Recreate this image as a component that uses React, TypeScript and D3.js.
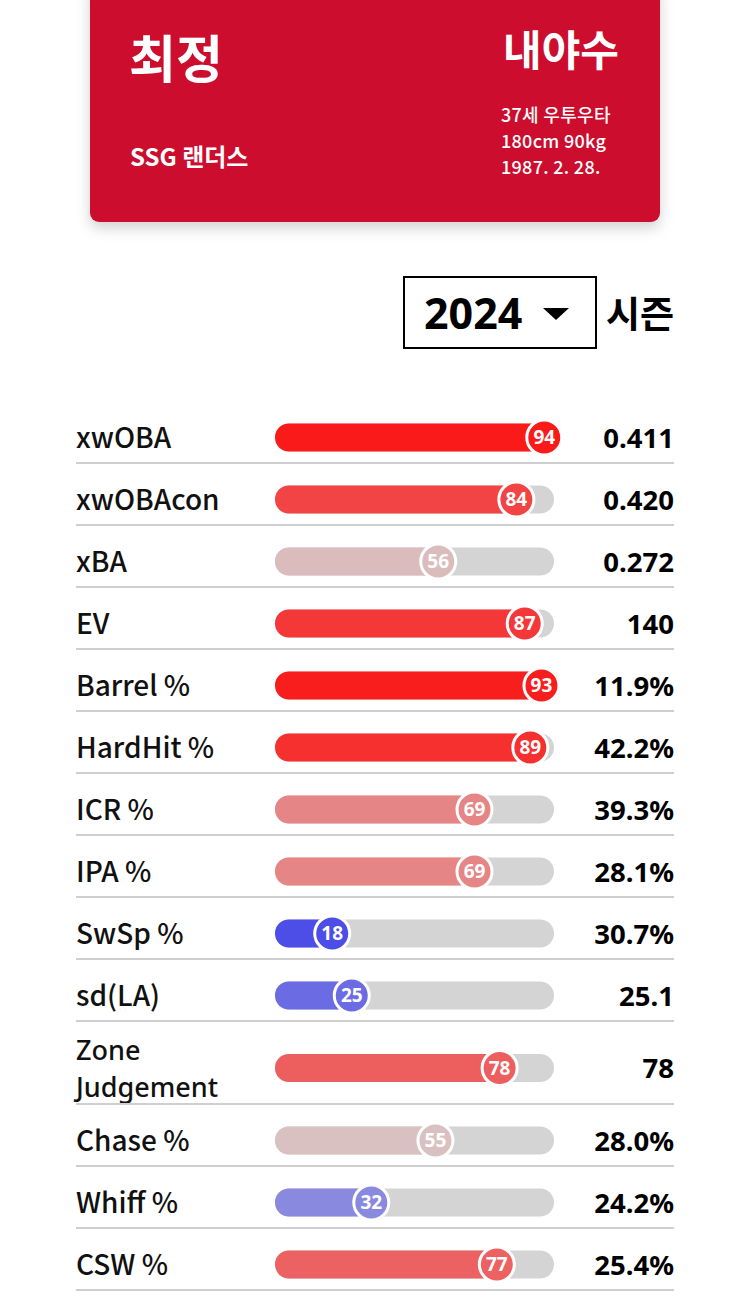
import React from "react";
import * as d3 from "d3";

const playerName = "최정";
const position = "내야수";
const team = "SSG 랜더스";
const bioLines = ["37세 우투우타", "180cm 90kg", "1987. 2. 28."];
const season = "2024";
const seasonLabel = "시즌";

const metrics = [
  "xwOBA", "xwOBAcon", "xBA", "EV", "Barrel %", "HardHit %", "ICR %", "IPA %",
  "SwSp %", "sd(LA)", "Zone Judgement", "Chase %", "Whiff %", "CSW %",
];
const percentiles = [94, 84, 56, 87, 93, 89, 69, 69, 18, 25, 78, 55, 32, 77];
const statValues = [
  "0.411", "0.420", "0.272", "140", "11.9%", "42.2%", "39.3%", "28.1%",
  "30.7%", "25.1", "78", "28.0%", "24.2%", "25.4%",
];

const LABEL_FONT = "'Noto Sans CJK KR', 'Noto Sans', sans-serif";
const NUM_FONT = "'Noto Sans', 'Noto Sans CJK KR', sans-serif";

export default function App() {
  const W = 750;
  const H = 1293;

  // layout
  const rowsTop = 401;
  const singleH = 62;
  const doubleH = 83;
  const lines = metrics.map((m) => (m.length > 10 ? m.split(" ") : [m]));
  const heights = lines.map((l) => (l.length > 1 ? doubleH : singleH));
  const tops: number[] = [];
  heights.reduce((acc, h, i) => {
    tops[i] = acc;
    return acc + h;
  }, rowsTop);

  const trackX0 = 275;
  const trackX1 = 554;
  const x = d3.scaleLinear().domain([0, 100]).range([trackX0, trackX1]);
  const color = d3
    .scaleLinear<string>()
    .domain([0, 50, 100])
    .range(["#0000f0", "#d6d6d6", "#ff0000"])
    .interpolate(d3.interpolateRgb);
  const barH = 28;
  const circR = 17.5;
  const circOffset = 7;

  const tri = d3.line()([
    [543, 308],
    [569, 308],
    [556, 320],
  ]);

  return (
    <div style={{ position: "absolute", left: 0, top: 0, width: W, height: H }}>
      <svg width={W} height={H} viewBox={`0 0 ${W} ${H}`} style={{ display: "block" }}>
        <defs>
          <filter id="shadow" x="-10%" y="-20%" width="120%" height="160%">
            <feDropShadow dx="0" dy="6" stdDeviation="7" floodColor="#000" floodOpacity="0.18" />
          </filter>
        </defs>
        <rect x={0} y={0} width={W} height={H} fill="#fff" />

        {/* header card */}
        <rect x={90} y={-20} width={570} height={242} rx={9} fill="#cc0f2d" filter="url(#shadow)" />
        <text x={129} y={78} fill="#fff" fontFamily={LABEL_FONT} fontWeight={700} fontSize={51}>
          {playerName}
        </text>
        <text x={619} y={66} fill="#fff" fontFamily={LABEL_FONT} fontWeight={700} fontSize={42} textAnchor="end">
          {position}
        </text>
        <text x={130} y={166} fill="#fff" fontFamily={LABEL_FONT} fontWeight={700} fontSize={24}>
          {team}
        </text>
        {bioLines.map((t, i) => (
          <text
            key={t}
            x={501}
            y={122 + i * 26}
            fill="#fff"
            fontFamily={LABEL_FONT}
            fontWeight={500}
            fontSize={18}
            letterSpacing={0.3}
          >
            {t}
          </text>
        ))}

        {/* season selector */}
        <rect x={404} y={277} width={192} height={71} fill="#fff" stroke="#000" strokeWidth={2} />
        <text x={424} y={329} fontFamily={NUM_FONT} fontWeight={700} fontSize={43} fill="#000">
          {season}
        </text>
        <path d={tri ?? ""} fill="#000" />
        <text x={606} y={328} fontFamily={LABEL_FONT} fontWeight={700} fontSize={37} fill="#000">
          {seasonLabel}
        </text>

        {/* rows */}
        {metrics.map((m, i) => {
          const top = tops[i];
          const bottom = top + heights[i];
          const cy = bottom - (heights[i] === doubleH ? 36 : 25.5);
          const v = percentiles[i];
          const cx = x(v) + circOffset;
          const c = color(v);
          const ls = lines[i];
          const multi = ls.length > 1;
          return (
            <g key={m}>
              {ls.map((t, j) => (
                <text
                  key={t}
                  x={76}
                  y={cy + 10 + (j - (ls.length - 1) / 2) * (multi ? 37 : 0)}
                  fontFamily={multi ? NUM_FONT : LABEL_FONT}
                  fontWeight={500}
                  fontSize={multi ? 27 : 28}
                  fill="#111"
                >
                  {t}
                </text>
              ))}
              <rect x={trackX0} y={cy - barH / 2} width={trackX1 - trackX0} height={barH} rx={barH / 2} fill="#d4d4d4" />
              <rect x={trackX0} y={cy - barH / 2} width={cx - trackX0} height={barH} rx={barH / 2} fill={c} />
              <circle cx={cx} cy={cy} r={circR} fill={c} stroke="#fff" strokeWidth={3} />
              <text
                x={cx}
                y={cy + 6.5}
                textAnchor="middle"
                fontFamily={NUM_FONT}
                fontWeight={700}
                fontSize={19}
                fill="#fff"
              >
                {v}
              </text>
              <text
                x={674}
                y={cy + 10}
                textAnchor="end"
                fontFamily={NUM_FONT}
                fontWeight={700}
                fontSize={27.5}
                fill="#000"
              >
                {statValues[i]}
              </text>
              <line x1={76} x2={674} y1={bottom} y2={bottom} stroke="#cfcfcf" strokeWidth={2} />
            </g>
          );
        })}
      </svg>
    </div>
  );
}
